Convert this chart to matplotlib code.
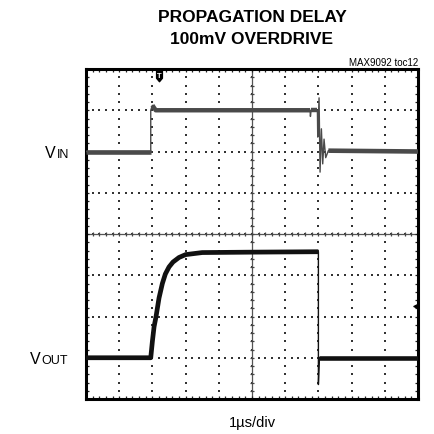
import numpy as np
import matplotlib
matplotlib.use("Agg")
import matplotlib.pyplot as plt
from matplotlib.path import Path

plt.rcParams['font.family'] = ['Liberation Sans', 'DejaVu Sans']

# scope screen: 10 x 8 divisions, values below are in divisions
n_xdiv = 10
n_ydiv = 8

# VIN trace (upper channel)
vin_t = [0.0, 1.95, 1.95, 2.0, 2.1, 6.75, 6.76, 6.78, 6.97, 6.98, 7.02, 7.05, 7.09, 7.13, 7.17, 7.22, 7.3, 10.0]
vin_v = [6.0, 6.0, 7.0, 7.12, 7.0, 7.0, 6.85, 7.0, 7.0, 6.35, 7.3, 5.5, 6.55, 5.7, 6.3, 5.85, 6.02, 6.0]

# VOUT trace (lower channel)
vout_t = [0.0, 1.95, 2.0, 2.05, 2.11, 2.2, 2.3, 2.39, 2.5, 2.62, 2.8, 3.0, 3.5, 5.0, 7.0, 7.0, 7.0, 7.03, 10.0]
vout_v = [1.0, 1.0, 1.4, 1.75, 2.0, 2.45, 2.8, 3.03, 3.2, 3.32, 3.43, 3.5, 3.55, 3.56, 3.57, 1.0, 0.35, 1.0, 1.0]

trig_pos = 2.2      # trigger marker (top)
ch2_ref = 2.25      # channel marker (right edge)

fig = plt.figure(figsize=(4.35, 4.35), dpi=100)
ax = fig.add_axes([86 / 435, 35 / 435, 332 / 435, 330 / 435])
ax.set_xlim(0, n_xdiv)
ax.set_ylim(0, n_ydiv)

# graticule dots
gx, gy = [], []
for j in range(1, n_ydiv):
    for x in np.arange(0, n_xdiv + 0.01, 0.2):
        gx.append(x); gy.append(j)
for i in range(1, n_xdiv):
    for y in np.arange(0, n_ydiv + 0.01, 0.2):
        gx.append(i); gy.append(y)
ax.scatter(gx, gy, s=1.3, marker='s', color='#333333', linewidths=0, zorder=1)

# center cross with small ticks
ax.axvline(n_xdiv / 2, color='#555555', lw=0.9, zorder=1)
ax.axhline(n_ydiv / 2, color='#555555', lw=0.9, zorder=1)
tx = np.arange(0, n_xdiv + 0.01, 0.2)
ty = np.arange(0, n_ydiv + 0.01, 0.2)
ax.vlines(tx, n_ydiv / 2 - 0.06, n_ydiv / 2 + 0.06, color='#444444', lw=0.9, zorder=1)
ax.hlines(ty, n_xdiv / 2 - 0.07, n_xdiv / 2 + 0.07, color='#444444', lw=0.9, zorder=1)

# border ticks
ax.set_xticks(tx)
ax.set_yticks(ty)
ax.tick_params(direction='in', length=2.5, width=0.9, top=True, right=True,
               labelbottom=False, labelleft=False, color='#222222')
for s in ax.spines.values():
    s.set_linewidth(2.2)

# traces: thin full path + thick noisy flats
vin_c = '#4a4a4a'
ax.plot(vin_t, vin_v, color=vin_c, lw=1.0, zorder=3)
ax.plot(vin_t[:2], vin_v[:2], color=vin_c, lw=3.3, solid_capstyle='butt', zorder=3)
ax.plot(vin_t[3:6], vin_v[3:6], color=vin_c, lw=3.2, solid_capstyle='butt', zorder=3)
ax.plot(vin_t[7:9], vin_v[7:9], color=vin_c, lw=3.2, solid_capstyle='butt', zorder=3)
ax.plot(vin_t[-2:], vin_v[-2:], color=vin_c, lw=3.3, solid_capstyle='butt', zorder=3)

vout_c = '#111111'
ax.plot(vout_t, vout_v, color=vout_c, lw=1.0, zorder=3)
ax.plot(vout_t[:15], vout_v[:15], color=vout_c, lw=3.4, solid_capstyle='butt', zorder=3)
ax.plot(vout_t[-2:], vout_v[-2:], color=vout_c, lw=3.3, solid_capstyle='butt', zorder=3)

# trigger marker
verts = [(-0.5, 1), (0.5, 1), (0.5, -0.3), (0, -0.9), (-0.5, -0.3), (-0.5, 1)]
pent = Path(verts, [Path.MOVETO] + [Path.LINETO] * 4 + [Path.CLOSEPOLY])
ax.scatter([trig_pos], [n_ydiv - 0.18], marker=pent, s=70, color='black', zorder=5, clip_on=False)
ax.text(trig_pos, n_ydiv - 0.15, 'T', color='white', fontsize=5.5, fontweight='bold',
        ha='center', va='center', zorder=6)
ax.scatter([n_xdiv - 0.06], [ch2_ref], marker='<', s=14, color='black', zorder=5)

# texts
fig.text(252 / 435, 1 - 17 / 435, 'PROPAGATION DELAY', ha='center', va='center',
         fontsize=12.5, fontweight='bold')
fig.text(252 / 435, 1 - 40 / 435, '100mV OVERDRIVE', ha='center', va='center',
         fontsize=12.5, fontweight='bold')
fig.text(418 / 435, 1 - 66 / 435, 'MAX9092 toc12', ha='right', va='baseline', fontsize=7)
fig.text(252 / 435, 1 - 427 / 435, '1\u00b5s/div', ha='center', va='baseline', fontsize=10.5)

fig.text(45 / 435, 1 - 158 / 435, 'V', ha='left', va='baseline', fontsize=11.5)
fig.text(56.5 / 435, 1 - 158 / 435, 'IN', ha='left', va='baseline', fontsize=9)
fig.text(30 / 435, 1 - 364 / 435, 'V', ha='left', va='baseline', fontsize=11.5)
fig.text(41.5 / 435, 1 - 364 / 435, 'OUT', ha='left', va='baseline', fontsize=9)

fig.savefig('out.png', dpi=100)
